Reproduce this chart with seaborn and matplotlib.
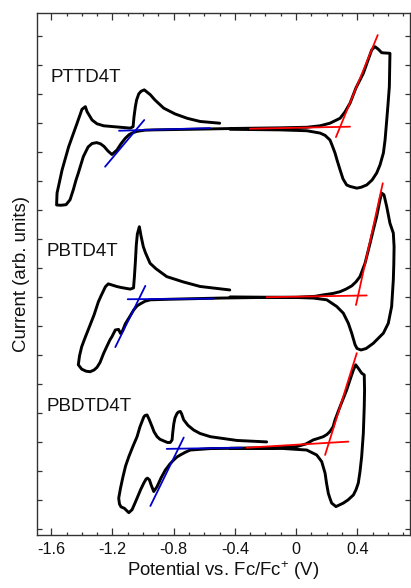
import numpy as np
import pandas as pd
import matplotlib
matplotlib.use("Agg")
import matplotlib.pyplot as plt
import seaborn as sns
from matplotlib.ticker import MultipleLocator

# ---------------- data (potential in V vs Fc/Fc+, current in arb. units) ----------------
polymers = ["PTTD4T", "PBTD4T", "PBDTD4T"]

pttd4t_v = [-0.499, -0.627, -0.712, -0.791, -0.865, -0.922, -0.952, -0.992, -1.013, -1.028,
            -1.042, -1.050, -1.059, -1.065, -1.083, -1.148, -1.257, -1.301, -1.333, -1.366,
            -1.377, -1.399, -1.431, -1.486, -1.529, -1.562, -1.565, -1.536, -1.503, -1.477,
            -1.456, -1.438, -1.423, -1.390, -1.359, -1.333, -1.303, -1.278, -1.255, -1.229,
            -1.203, -1.170, -1.144, -1.116, -1.092, -1.072, -1.039, -0.987, -0.930, -0.693,
            -0.386, -0.105, 0.070, 0.157, 0.222, 0.288, 0.320, 0.353, 0.392, 0.440,
            0.471, 0.495, 0.516, 0.538, 0.560, 0.614, 0.612, 0.610, 0.601, 0.593,
            0.582, 0.571, 0.549, 0.527, 0.497, 0.462, 0.425, 0.397, 0.353, 0.331,
            0.307, 0.288, 0.268, 0.255, 0.235, 0.222, 0.190, 0.157, 0.070, -0.105,
            -0.431]
pttd4t_i = [13.00, 13.06, 13.17, 13.32, 13.52, 13.80, 13.98, 14.15, 14.10, 14.01,
            13.80, 13.57, 13.22, 12.88, 12.83, 12.86, 12.91, 12.98, 13.11, 13.40,
            13.57, 13.48, 13.00, 12.19, 11.39, 10.59, 10.18, 10.17, 10.19, 10.36,
            10.70, 11.04, 11.28, 11.85, 12.18, 12.30, 12.33, 12.29, 12.20, 12.04,
            11.92, 12.08, 12.29, 12.48, 12.60, 12.66, 12.72, 12.76, 12.77, 12.79,
            12.82, 12.84, 12.86, 12.91, 13.00, 13.17, 13.39, 13.69, 14.22, 14.72,
            15.18, 15.53, 15.64, 15.55, 15.43, 15.41, 14.84, 14.26, 13.63, 13.11,
            12.42, 11.97, 11.56, 11.28, 11.04, 10.87, 10.79, 10.76, 10.82, 10.87,
            11.08, 11.39, 11.73, 11.97, 12.25, 12.42, 12.58, 12.66, 12.74, 12.77,
            12.79]

pbtd4t_v = [-0.433, -0.627, -0.739, -0.845, -0.915, -0.954, -0.984, -0.998, -1.013, -1.024,
            -1.037, -1.044, -1.050, -1.056, -1.062, -1.083, -1.107, -1.148, -1.172, -1.227,
            -1.246, -1.275, -1.292, -1.320, -1.346, -1.379, -1.401, -1.415, -1.423, -1.401,
            -1.373, -1.346, -1.320, -1.301, -1.281, -1.257, -1.235, -1.216, -1.203, -1.181,
            -1.160, -1.147, -1.134, -1.116, -1.088, -1.061, -1.039, -1.018, -0.987, -0.952,
            -0.822, -0.495, -0.235, 0.005, 0.124, 0.178, 0.242, 0.288, 0.327, 0.364,
            0.392, 0.418, 0.451, 0.484, 0.507, 0.527, 0.549, 0.560, 0.575, 0.593,
            0.614, 0.636, 0.641, 0.639, 0.636, 0.625, 0.603, 0.571, 0.505, 0.458,
            0.425, 0.399, 0.386, 0.364, 0.342, 0.309, 0.266, 0.201, 0.113, 0.005,
            -0.431]
pbtd4t_i = [7.25, 7.37, 7.53, 7.71, 7.98, 8.17, 8.53, 8.74, 9.11, 9.43,
            9.18, 8.80, 8.22, 7.73, 7.32, 7.28, 7.30, 7.34, 7.37, 7.46,
            7.36, 7.04, 6.84, 6.39, 6.04, 5.60, 5.29, 4.98, 4.67, 4.52,
            4.45, 4.43, 4.49, 4.58, 4.75, 5.07, 5.32, 5.53, 5.64, 5.87,
            5.89, 5.75, 5.84, 6.08, 6.32, 6.56, 6.70, 6.77, 6.86, 6.91,
            6.93, 6.97, 6.99, 7.00, 7.03, 7.08, 7.13, 7.19, 7.28, 7.39,
            7.53, 7.71, 8.17, 8.86, 9.36, 9.78, 10.36, 10.59, 10.53, 10.12,
            9.55, 9.21, 8.74, 8.11, 7.60, 6.68, 6.10, 5.76, 5.41, 5.23,
            5.18, 5.23, 5.36, 5.76, 6.10, 6.45, 6.68, 6.91, 6.97, 6.99,
            7.01]

pbdtd4t_v = [-0.192, -0.386, -0.560, -0.627, -0.669, -0.706, -0.734, -0.748, -0.756, -0.769,
             -0.778, -0.791, -0.799, -0.806, -0.810, -0.822, -0.840, -0.854, -0.889, -0.908,
             -0.928, -0.941, -0.961, -0.974, -0.987, -0.995, -1.020, -1.039, -1.065, -1.093,
             -1.114, -1.131, -1.147, -1.159, -1.154, -1.144, -1.122, -1.093, -1.072, -1.056,
             -1.039, -1.016, -0.995, -0.980, -0.971, -0.958, -0.948, -0.930, -0.908, -0.882,
             -0.854, -0.824, -0.799, -0.778, -0.756, -0.725, -0.691, -0.560, -0.386, -0.235,
             -0.105, 0.005, 0.065, 0.113, 0.144, 0.178, 0.203, 0.222, 0.242, 0.255,
             0.288, 0.331, 0.353, 0.375, 0.390, 0.407, 0.429, 0.446, 0.448, 0.446,
             0.440, 0.429, 0.418, 0.407, 0.392, 0.375, 0.340, 0.309, 0.261, 0.233,
             0.222, 0.211, 0.199, 0.190, 0.168, 0.135, 0.070, -0.105, -0.431]
pbdtd4t_i = [2.01, 2.06, 2.19, 2.30, 2.42, 2.58, 2.77, 2.98, 3.06, 3.04,
             2.99, 2.84, 2.63, 2.32, 2.08, 1.99, 1.99, 2.02, 2.10, 2.19,
             2.36, 2.54, 2.80, 2.94, 2.92, 2.87, 2.53, 2.19, 1.87, 1.50,
             1.18, 0.81, 0.42, 0.07, -0.13, -0.23, -0.28, -0.43, -0.33, -0.14,
             0.07, 0.36, 0.59, 0.73, 0.76, 0.70, 0.54, 0.30, 0.47, 0.77,
             1.04, 1.25, 1.39, 1.49, 1.56, 1.65, 1.73, 1.78, 1.79, 1.80,
             1.81, 1.85, 1.94, 2.08, 2.13, 2.19, 2.27, 2.37, 2.53, 2.77,
             3.23, 3.80, 4.15, 4.49, 4.67, 4.55, 4.38, 4.32, 3.80, 3.23,
             2.31, 1.50, 0.98, 0.59, 0.36, 0.18, 0.01, -0.10, -0.22, -0.10,
             0.06, 0.24, 0.60, 0.93, 1.33, 1.56, 1.73, 1.79, 1.79]

# onset construction lines: (v_start, v_end), (i_start, i_end)
red_base_v = [(-0.301, 0.353), (-0.192, 0.462), (-0.322, 0.342)]
red_base_i = [(12.81, 12.88), (7.00, 7.06), (1.81, 2.02)]
red_tan_v = [(0.261, 0.534), (0.392, 0.567), (0.190, 0.397)]
red_tan_i = [(12.52, 16.04), (6.73, 10.93), (1.56, 5.07)]
blue_base_v = [(-1.157, -0.562), (-1.100, -0.538), (-0.845, -0.355)]
blue_base_i = [(12.74, 12.83), (6.93, 6.95), (1.77, 1.81)]
blue_tan_v = [(-1.248, -0.992), (-1.181, -0.985), (-0.952, -0.734)]
blue_tan_i = [(11.50, 13.11), (5.28, 7.39), (-0.20, 2.16)]

label_v = [-1.608, -1.634, -1.634]
label_i = [14.56, 8.56, 3.22]

x_ticks = [-1.6, -1.2, -0.8, -0.4, 0.0, 0.4]
x_ticklabels = ["-1.6", "-1.2", "-0.8", "-0.4", "0", "0.4"]

# ---------------- plotting ----------------
sns.set_theme(style="ticks")
plt.rcParams['font.family'] = ['Liberation Sans', 'DejaVu Sans']
plt.rcParams['mathtext.fontset'] = 'custom'
plt.rcParams['mathtext.rm'] = 'Liberation Sans'

curves = {"PTTD4T": (pttd4t_v, pttd4t_i),
          "PBTD4T": (pbtd4t_v, pbtd4t_i),
          "PBDTD4T": (pbdtd4t_v, pbdtd4t_i)}

fig = plt.figure(figsize=(4.11, 5.88), dpi=100)
ax = fig.add_axes([37 / 411, 1 - 535 / 588, 373 / 411, 522 / 588])

for name in polymers:
    v, i = curves[name]
    df = pd.DataFrame({"potential": v, "current": i})
    sns.lineplot(data=df, x="potential", y="current", sort=False, estimator=None,
                 color="black", lw=2.1, ax=ax)

def seg(vs, is_, color):
    for (v0, v1), (i0, i1) in zip(vs, is_):
        d = pd.DataFrame({"potential": [v0, v1], "current": [i0, i1]})
        sns.lineplot(data=d, x="potential", y="current", sort=False, estimator=None,
                     color=color, lw=1.3, ax=ax)

seg(red_base_v, red_base_i, "#ff0000")
seg(red_tan_v, red_tan_i, "#ff0000")
seg(blue_base_v, blue_base_i, "#0000cc")
seg(blue_tan_v, blue_tan_i, "#0000cc")

for name, lv, li in zip(polymers, label_v, label_i):
    ax.text(lv, li, name, fontsize=13.5, ha="left", va="center", color="#111111")

ax.set_xlim(-1.693, 0.745)
ax.set_ylim(-1.20, 16.80)
ax.set_xticks(x_ticks)
ax.set_xticklabels(x_ticklabels)
ax.xaxis.set_minor_locator(MultipleLocator(0.1))
ax.yaxis.set_major_locator(MultipleLocator(1))
ax.tick_params(axis="both", which="both", direction="in", top=True, right=True,
               colors="#333333", labelcolor="#111111")
ax.tick_params(axis="x", which="major", length=5, width=0.9, labelsize=11.7, pad=5)
ax.tick_params(axis="x", which="minor", length=2.5, width=0.9)
ax.tick_params(axis="y", which="major", length=3.5, width=0.9, labelleft=False)
for sp in ax.spines.values():
    sp.set_color("#333333")
    sp.set_linewidth(1.0)

ax.set_xlabel(r"Potential vs. Fc/Fc$\mathregular{^{+}}$ (V)", fontsize=13.4, labelpad=2,
              color="#111111")
ax.set_ylabel("Current (arb. units)", fontsize=13.4, labelpad=5, color="#111111")

fig.savefig("out.png", dpi=100)
